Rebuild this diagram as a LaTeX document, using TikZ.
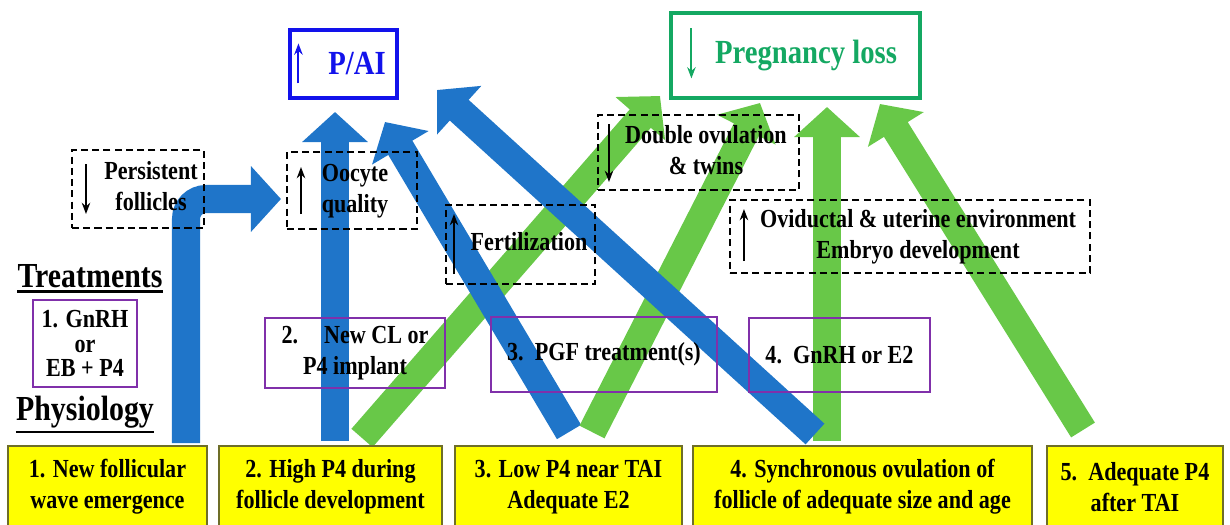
\documentclass[tikz,border=0pt]{standalone}
\usepackage{fontspec}
\setmainfont{Liberation Serif}[FakeStretch=0.85]
\usetikzlibrary{arrows.meta,backgrounds}

\definecolor{arrblue}{RGB}{31,117,201}
\definecolor{arrgreen}{RGB}{104,200,72}
\definecolor{paiblue}{RGB}{18,18,235}
\definecolor{lossgreen}{RGB}{20,168,98}
\definecolor{trtpurple}{RGB}{128,48,170}
\definecolor{physyellow}{RGB}{255,255,0}
\definecolor{physedge}{RGB}{110,110,40}

\newcommand{\bodyfont}{\fontsize{18.5}{22}\selectfont\bfseries}
\newcommand{\efftext}[2]{\hspace*{#1}\begin{tabular}{@{}c@{}}#2\end{tabular}}

\begin{document}
\begin{tikzpicture}[x=0.025cm,y=-0.025cm,
    physbox/.style={draw=physedge, line width=0.8pt, fill=physyellow, minimum height=2.05cm, align=center, font=\bodyfont, inner sep=0pt},
    trtbox/.style={draw=trtpurple, line width=2pt, align=center, font=\bodyfont, inner sep=0pt},
    effbox/.style={draw, line width=1.4pt, dash pattern=on 5pt off 3pt, align=center, font=\bodyfont, inner sep=0pt},
    titlebox/.style={line width=2.2pt, align=center, font=\fontsize{24}{28}\selectfont\bfseries, inner sep=0pt},
    headtext/.style={font=\fontsize{25}{30}\selectfont\bfseries, inner sep=0pt, anchor=base},
    txtarrow/.style={line width=1.5pt, -{Stealth[length=8pt,width=6pt]}},
    blockarr/.style={line width=0.7cm, -{Triangle[length=0.75cm,width=1.6cm]}},
    bluearr/.style={blockarr, draw=arrblue},
    greenarr/.style={blockarr, draw=arrgreen}]
  \useasboundingbox (0,0) rectangle (1230,525);

  % Titles
  \node[titlebox, draw=paiblue, text=paiblue, minimum width=2.675cm, minimum height=1.7cm] (pai) at (343.5,64)
    {\hspace*{0.675cm}P/AI};
  \draw[txtarrow, paiblue] ([shift={(10,55)}]pai.north west) -- ([shift={(10,15)}]pai.north west);
  \node[titlebox, draw=lossgreen, text=lossgreen, minimum width=6.225cm, minimum height=2.125cm] (ploss) at (795.5,55.5)
    {\hspace*{0.525cm}Pregnancy loss};
  \draw[txtarrow, lossgreen] ([shift={(22,17)}]ploss.north west) -- ([shift={(22,67)}]ploss.north west);

  % Effects
  \node[effbox, minimum width=3.3cm, minimum height=1.95cm] (pf) at (138,189) {\efftext{0.65cm}{Persistent\\follicles}};
  \draw[txtarrow] ([shift={(15,15)}]pf.north west) -- ([shift={(15,65)}]pf.north west);
  \node[effbox, minimum width=3.25cm, minimum height=1.925cm] (oq) at (352,190.5) {\efftext{0.15cm}{Oocyte\\quality}};
  \draw[txtarrow] ([shift={(15,63)}]oq.north west) -- ([shift={(15,16)}]oq.north west);
  \node[effbox, minimum width=3.725cm, minimum height=1.975cm] (fert) at (520.5,244.5) {\efftext{0.425cm}{Fertilization}};
  \draw[txtarrow] ([shift={(9,70)}]fert.north west) -- ([shift={(9,10)}]fert.north west);
  \node[effbox, minimum width=5.025cm, minimum height=1.875cm] (dov) at (698.5,152.5) {\efftext{0.375cm}{Double ovulation\\\& twins}};
  \draw[txtarrow] ([shift={(12,10)}]dov.north west) -- ([shift={(12,68)}]dov.north west);
  \node[effbox, minimum width=9cm, minimum height=1.825cm] (ovi) at (910,236.5)
    {\efftext{0.4cm}{Oviductal \& uterine environment\\Embryo development}};
  \draw[txtarrow] ([shift={(15,62)}]ovi.north west) -- ([shift={(15,10)}]ovi.north west);

  % Treatments
  \node[headtext] (treat) at (90,287) {Treatments};
  \draw[line width=2pt] ([yshift=-0.1cm]treat.south west) -- ([yshift=-0.1cm]treat.south east);
  \node[trtbox, minimum width=2.6cm, minimum height=2.175cm, font=\fontsize{18.5}{17.5}\selectfont\bfseries] (trt1) at (85,343.5)
    {1. GnRH\\or\\EB + P4};
  \node[trtbox, minimum width=4.5cm, minimum height=1.75cm] (trt2) at (355,353) {2.\quad New CL or\\P4 implant};
  \node[trtbox, minimum width=5.65cm, minimum height=1.875cm] (trt3) at (604,354.5) {3.\ \ PGF treatment(s)};
  \node[trtbox, minimum width=4.525cm, minimum height=1.85cm] (trt4) at (839.5,355) {4.\ \ GnRH or E2};

  % Physiology
  \node[headtext] (phys) at (85,420) {Physiology};
  \draw[line width=2pt] ([yshift=-0.1cm]phys.south west) -- ([yshift=-0.1cm]phys.south east);
  \node[physbox, minimum width=4.975cm] (phys1) at (107.5,487) {1. New follicular\\wave emergence};
  \node[physbox, minimum width=5.575cm] (phys2) at (330.5,487) {2. High P4 during\\follicle development};
  \node[physbox, minimum width=5.675cm] (phys3) at (568.5,487) {3. Low P4 near TAI\\Adequate E2};
  \node[physbox, minimum width=8.475cm] (phys4) at (862.5,487) {4. Synchronous ovulation of\\follicle of adequate size and age};
  \node[physbox, minimum width=4.4cm] (phys5) at (1135,487) {5.\ \ Adequate P4\\after TAI};

  % Block arrows
  \coordinate (b1s) at (186,443);  \coordinate (b1e) at (281,199);
  \coordinate (b2s) at (335,441);  \coordinate (b2e) at (335,112);
  \coordinate (b3s) at (569,432);  \coordinate (b3e) at (385,122);
  \coordinate (b4s) at (815,434);  \coordinate (b4e) at (437,90);
  \coordinate (g5s) at (362,438);  \coordinate (g5e) at (660,96);
  \coordinate (g6s) at (592,432);  \coordinate (g6e) at (760,103);
  \coordinate (g7s) at (827,441);  \coordinate (g7e) at (827,107);
  \coordinate (g8s) at (1083,430); \coordinate (g8e) at (880,104);
  \begin{scope}[on background layer]
    \draw[greenarr] (g5s) -- (g5e);
    \draw[greenarr] (g7s) -- (g7e);
    \draw[greenarr] (g8s) -- (g8e);
    \draw[bluearr, rounded corners=0.5cm] (b1s) |- (b1e);
    \draw[bluearr] (b2s) -- (b2e);
    \draw[bluearr] (b3s) -- (b3e);
    \draw[greenarr] (g6s) -- (g6e);
    \draw[bluearr] (b4s) -- (b4e);
  \end{scope}
\end{tikzpicture}
\end{document}
